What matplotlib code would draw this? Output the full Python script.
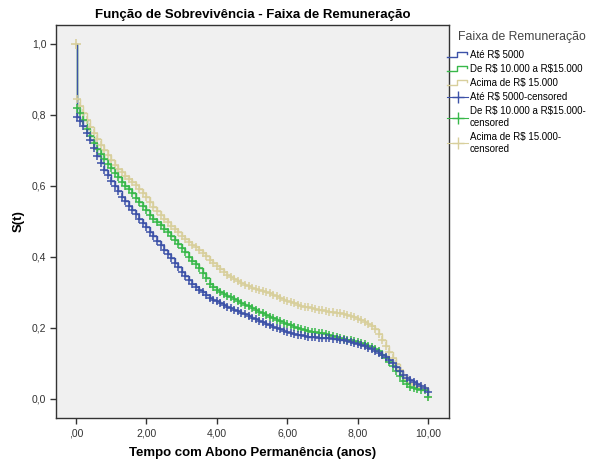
import matplotlib
matplotlib.use("Agg")
import matplotlib.pyplot as plt
from matplotlib.lines import Line2D
from matplotlib.legend_handler import HandlerBase

plt.rcParams['font.family'] = ['Liberation Sans', 'DejaVu Sans']
plt.rcParams['text.parse_math'] = False

# ---- data ----
times = [0.0, 0.02,
         0.1, 0.2, 0.3, 0.4, 0.5, 0.6, 0.7, 0.8, 0.9, 1.0,
         1.1, 1.2, 1.3, 1.4, 1.5, 1.6, 1.7, 1.8, 1.9, 2.0,
         2.1, 2.2, 2.3, 2.4, 2.5, 2.6, 2.7, 2.8, 2.9, 3.0,
         3.1, 3.2, 3.3, 3.4, 3.5, 3.6, 3.7, 3.8, 3.9, 4.0,
         4.1, 4.2, 4.3, 4.4, 4.5, 4.6, 4.7, 4.8, 4.9, 5.0,
         5.1, 5.2, 5.3, 5.4, 5.5, 5.6, 5.7, 5.8, 5.9, 6.0,
         6.1, 6.2, 6.3, 6.4, 6.5, 6.6, 6.7, 6.8, 6.9, 7.0,
         7.1, 7.2, 7.3, 7.4, 7.5, 7.6, 7.7, 7.8, 7.9, 8.0,
         8.1, 8.2, 8.3, 8.4, 8.5, 8.6, 8.7, 8.8, 8.9, 9.0,
         9.1, 9.2, 9.3, 9.4, 9.5, 9.6, 9.7, 9.8, 9.9, 10.0]

surv_ate5000 = [1.0, 0.795,
                0.782, 0.768, 0.750, 0.730, 0.707, 0.685, 0.665, 0.645, 0.630, 0.615,
                0.600, 0.585, 0.570, 0.557, 0.545, 0.533, 0.521, 0.508, 0.496, 0.484,
                0.471, 0.458, 0.446, 0.433, 0.420, 0.408, 0.396, 0.384, 0.371, 0.358,
                0.347, 0.336, 0.325, 0.316, 0.308, 0.300, 0.292, 0.285, 0.280, 0.275,
                0.270, 0.265, 0.260, 0.256, 0.251, 0.247, 0.242, 0.238, 0.233, 0.229,
                0.225, 0.220, 0.216, 0.212, 0.208, 0.204, 0.200, 0.196, 0.192, 0.189,
                0.186, 0.183, 0.181, 0.179, 0.177, 0.176, 0.175, 0.174, 0.173, 0.172,
                0.172, 0.171, 0.170, 0.169, 0.167, 0.165, 0.162, 0.160, 0.157, 0.154,
                0.151, 0.148, 0.144, 0.140, 0.135, 0.130, 0.125, 0.118, 0.110, 0.101,
                0.090, 0.078, 0.068, 0.060, 0.053, 0.047, 0.041, 0.036, 0.032, 0.020]

surv_10a15 = [1.0, 0.820,
              0.805, 0.785, 0.760, 0.740, 0.722, 0.705, 0.690, 0.677, 0.663, 0.650,
              0.637, 0.624, 0.612, 0.601, 0.591, 0.580, 0.567, 0.555, 0.544, 0.533,
              0.518, 0.508, 0.498, 0.489, 0.480, 0.470, 0.460, 0.449, 0.437, 0.425,
              0.413, 0.401, 0.390, 0.379, 0.368, 0.355, 0.342, 0.324, 0.315, 0.308,
              0.302, 0.297, 0.291, 0.286, 0.281, 0.276, 0.271, 0.266, 0.261, 0.256,
              0.251, 0.246, 0.241, 0.237, 0.232, 0.228, 0.223, 0.219, 0.215, 0.211,
              0.208, 0.204, 0.201, 0.198, 0.195, 0.192, 0.190, 0.188, 0.187, 0.186,
              0.183, 0.181, 0.178, 0.175, 0.173, 0.170, 0.167, 0.165, 0.162, 0.160,
              0.157, 0.154, 0.150, 0.146, 0.140, 0.134, 0.125, 0.115, 0.104, 0.092,
              0.078, 0.064, 0.052, 0.042, 0.034, 0.030, 0.028, 0.026, 0.025, 0.006]

surv_acima15 = [1.0, 0.845,
                0.825, 0.805, 0.785, 0.766, 0.750, 0.732, 0.715, 0.700, 0.686, 0.672,
                0.660, 0.649, 0.639, 0.629, 0.620, 0.611, 0.602, 0.592, 0.581, 0.570,
                0.555, 0.542, 0.530, 0.519, 0.508, 0.498, 0.488, 0.479, 0.469, 0.460,
                0.451, 0.442, 0.434, 0.428, 0.421, 0.411, 0.402, 0.392, 0.383, 0.374,
                0.366, 0.358, 0.350, 0.343, 0.337, 0.332, 0.327, 0.322, 0.318, 0.314,
                0.311, 0.308, 0.305, 0.302, 0.299, 0.294, 0.289, 0.285, 0.280, 0.276,
                0.273, 0.270, 0.266, 0.263, 0.260, 0.258, 0.255, 0.253, 0.251, 0.250,
                0.248, 0.246, 0.244, 0.243, 0.242, 0.239, 0.236, 0.233, 0.230, 0.226,
                0.222, 0.218, 0.212, 0.205, 0.196, 0.182, 0.167, 0.150, 0.132, 0.115,
                0.098, 0.082, 0.068, 0.056, 0.045, 0.039, 0.035, 0.033, 0.031, 0.005]

labels = ["Até R$ 5000", "De R$ 10.000 a R$15.000", "Acima de R$ 15.000"]
censored_labels = ["Até R$ 5000-censored", "De R$ 10.000 a R$15.000-\ncensored",
                   "Acima de R$ 15.000-\ncensored"]
legend_title = "Faixa de Remuneração"
xticks = [0, 2, 4, 6, 8, 10]
xticklabels = [",00", "2,00", "4,00", "6,00", "8,00", "10,00"]
yticks = [0.0, 0.2, 0.4, 0.6, 0.8, 1.0]
yticklabels = ["0,0", "0,2", "0,4", "0,6", "0,8", "1,0"]

colors = ["#3d52a8", "#38b84a", "#d8cf9c"]
series = [surv_ate5000, surv_10a15, surv_acima15]

fig = plt.figure(figsize=(5.91, 4.65), dpi=100)
ax = fig.add_axes([0.0948, 0.1011, 0.6652, 0.8452])
ax.set_facecolor("#f0f0f0")

draw_order = [2, 1, 0]
for i in draw_order:
    ax.step(times, series[i], where="post", color=colors[i], lw=1.0, zorder=2 + (2 - i) * 0.1)
for i in draw_order:
    ax.plot(times[1:], series[i][1:], ls="none", marker="+", ms=6, mew=1.1,
            color=colors[i], zorder=3 + (2 - i) * 0.1)
# starting censored mark at S=1 for the top group
ax.plot(times[:1], surv_acima15[:1], ls="none", marker="+", ms=7, mew=1.2, color=colors[2], zorder=4)

ax.set_xlim(-0.568, 10.6)
ax.set_ylim(-0.0535, 1.0535)
ax.set_xticks(xticks)
ax.set_xticklabels(xticklabels)
ax.set_yticks(yticks)
ax.set_yticklabels(yticklabels)
ax.tick_params(axis="both", direction="out", length=4, width=1, labelsize=7.5,
               colors="#333333", pad=3)
ax.tick_params(axis="x", pad=3.5)
for s in ax.spines.values():
    s.set_color("#333333")
    s.set_linewidth(1.0)

ax.set_xlabel("Tempo com Abono Permanência (anos)", fontsize=9.5, fontweight="bold", labelpad=6)
ax.set_ylabel("S(t)", fontsize=9.5, fontweight="bold", labelpad=5)
ax.set_title("Função de Sobrevivência - Faixa de Remuneração", fontsize=9.5, fontweight="bold", pad=5)


class HandlerStep(HandlerBase):
    def create_artists(self, legend, orig_handle, xdescent, ydescent, width, height, fontsize, trans):
        x0, w, h = -xdescent, width, height
        y0 = -ydescent
        xs = [x0, x0 + 0.45 * w, x0 + 0.45 * w, x0 + 0.95 * w, x0 + 0.95 * w]
        ys = [y0 + 0.1 * h, y0 + 0.1 * h, y0 + 0.85 * h, y0 + 0.85 * h, y0 + 0.55 * h]
        ln = Line2D(xs, ys, color=orig_handle.get_color(), lw=1.0, transform=trans)
        return [ln]


fig.text(458 / 591, 1 - 37 / 465, legend_title, fontsize=8.8, color="#444444",
         ha="left", va="center")
step_handles = [Line2D([], [], color=c) for c in colors]
cens_handles = [Line2D([], [], color=c, marker="+", ms=9, mew=1.0, lw=0.8) for c in colors]
handler_map = {h: HandlerStep() for h in step_handles}
leg = fig.legend(step_handles + cens_handles, labels + censored_labels,
                 handler_map=handler_map, loc="upper left",
                 bbox_to_anchor=(447 / 591, 1 - 50 / 465),
                 frameon=False, fontsize=7, borderpad=0,
                 handlelength=2.2, handletextpad=0.15, labelspacing=0.42, borderaxespad=0)

fig.savefig("out.png", dpi=100)
